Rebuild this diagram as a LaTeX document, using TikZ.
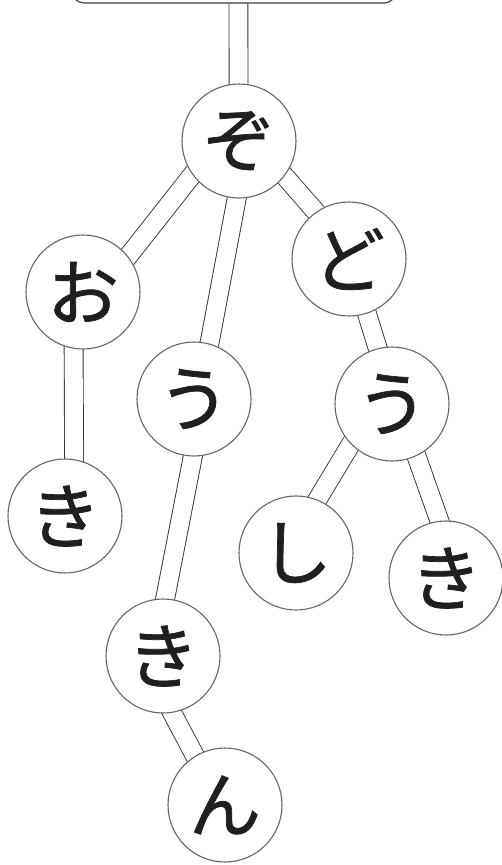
\documentclass[tikz,border=0pt]{standalone}
\usepackage{fontspec}
\newfontfamily\jp[FakeBold=1]{Noto Sans CJK JP}
\usetikzlibrary{backgrounds,calc}
\begin{document}
\begin{tikzpicture}[x=1pt,y=-1pt,
  char/.style={circle, draw=black!60, line width=1.1pt, fill=white,
    minimum size=114pt, inner sep=0pt,
    font=\jp\fontsize{72}{72}\selectfont, text=black!88},
  link/.style={draw=black!80, line width=0.9pt, double=white, double distance=18pt},
  rootbox/.style={draw=black!75, line width=1.2pt, rounded corners=12pt,
    minimum width=324pt, minimum height=60pt, inner sep=0pt, fill=white}]
\useasboundingbox (0,0) rectangle (501,865);
\node[rootbox] (root) at (234,-27) {};
\node[char] (zo)  at (239,141) {ぞ};
\node[char] (o)   at (83,292)  {お};
\node[char] (ki1) at (65,516)  {き};
\node[char] (u1)  at (194,399) {う};
\node[char] (ki2) at (163,656) {き};
\node[char] (n)   at (225,805) {ん};
\node[char] (do)  at (349,259) {ど};
\node[char] (u2)  at (392,404) {う};
\node[char] (shi) at (296,553) {し};
\node[char] (ki3) at (446,578) {き};
\coordinate (stem) at (238.4,3);
\begin{scope}[on background layer]
  \draw[link] (stem) -- ($(zo.center)+(-0.3,0)$);
  \draw[link] ($(zo.center)+(-20,0)$) -- ($(o.center)+(17,0)$);
  \draw[link] ($(zo.center)+(8.5,0)$) -- ($(u1.center)+(5,0)$);
  \draw[link] ($(zo.center)+(15,0)$) -- ($(do.center)+(8,0)$);
  \draw[link] ($(o.center)+(-9.6,0)$) -- ($(ki1.center)+(9.3,0)$);
  \draw[link] ($(u1.center)+(10,0)$) -- ($(ki2.center)+(-9,0)$);
  \draw[link] ($(ki2.center)+(-21,0)$) -- ($(n.center)+(-4,0)$);
  \draw[link] ($(do.center)+(1,0)$) -- ($(u2.center)+(3,0)$);
  \draw[link] ($(u2.center)+(-17,0)$) -- ($(shi.center)+(-10.7,0)$);
  \draw[link] ($(u2.center)+(6,0)$) -- ($(ki3.center)+(13.6,0)$);
\end{scope}
\end{tikzpicture}
\end{document}
